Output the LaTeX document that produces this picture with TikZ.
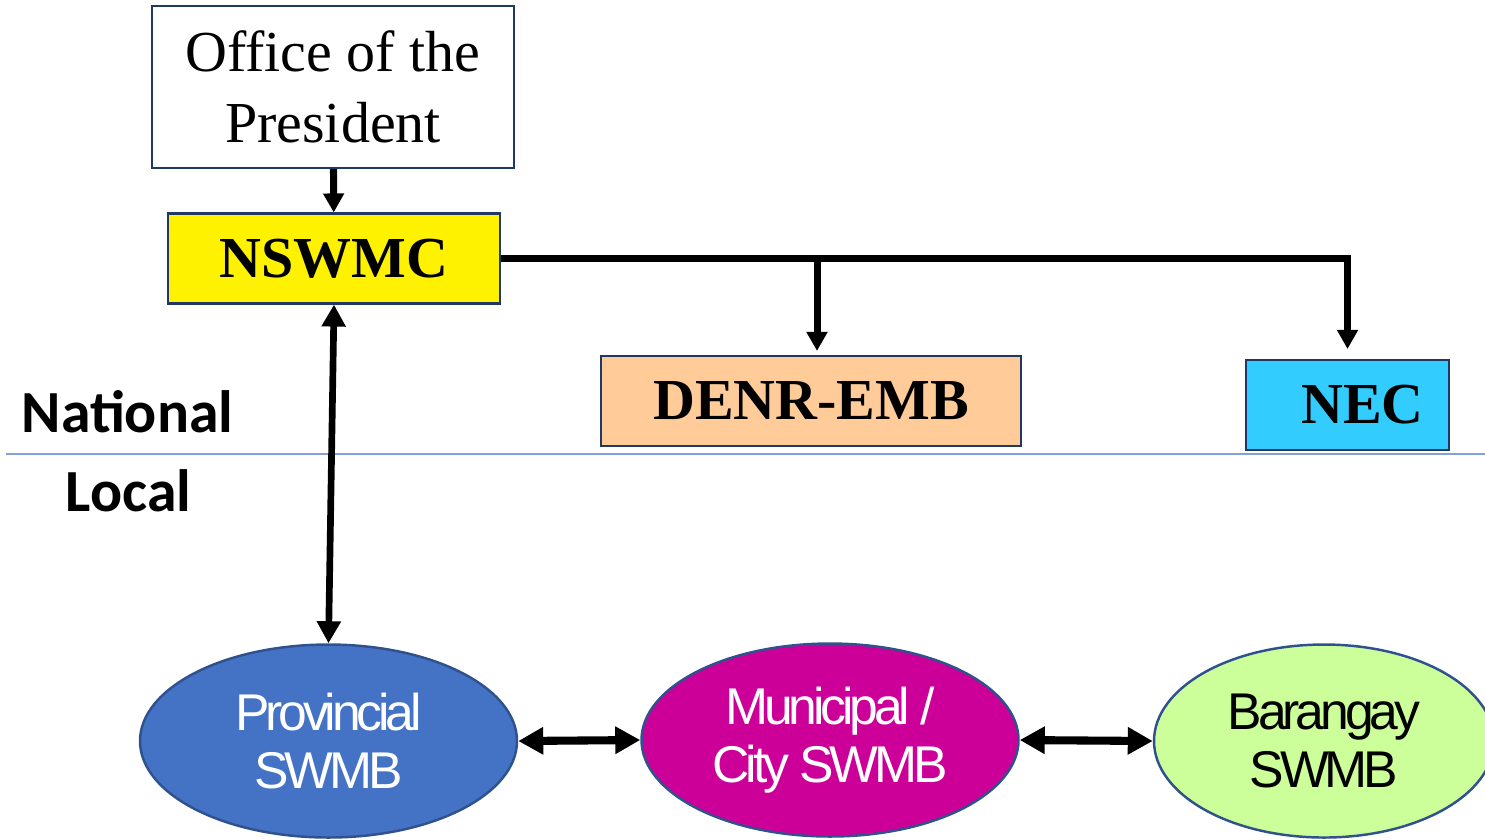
\documentclass[tikz,border=0pt]{standalone}
\usepackage{fontspec}
\setmainfont{Liberation Serif}
\newfontfamily\boardfont{Liberation Sans}[LetterSpace=-8]
\newfontfamily\levelfont{Carlito}
\usetikzlibrary{arrows.meta,positioning,shapes.geometric}
\definecolor{boxedge}{RGB}{32,56,100}
\definecolor{ovaledge}{RGB}{47,82,143}
\definecolor{denrfill}{RGB}{255,204,153}
\definecolor{necfill}{RGB}{51,204,255}
\definecolor{provfill}{RGB}{68,114,196}
\definecolor{munifill}{RGB}{204,0,153}
\definecolor{brgyfill}{RGB}{204,255,153}
\definecolor{divider}{RGB}{132,160,216}
\tikzset{
    org chart/.style  = {>={Triangle[length=1.9mm, width=2.0mm]}},
    link/.style       = {draw, line width=2pt},
    long link/.style  = {draw, line width=1.9pt,
                         {Triangle[length=2.2mm, width=2.3mm]}-{Triangle[length=2.2mm, width=2.3mm]}},
    wide link/.style  = {draw, line width=2.3pt,
                         {Triangle[length=2.5mm, width=2.6mm]}-{Triangle[length=2.5mm, width=2.6mm]}},
    office/.style     = {draw=boxedge, line width=0.6pt, align=center,
                         font=\fontsize{16.5}{20}\selectfont},
    unit/.style       = {office, font=\fontsize{16.5}{20}\selectfont\bfseries,
                         minimum height=0.9cm},
    board/.style      = {ellipse, draw=ovaledge, line width=0.7pt, align=center,
                         minimum width=3.77cm, minimum height=1.93cm, inner sep=0pt,
                         font=\boardfont\fontsize{14.7}{16.4}\selectfont},
    level/.style      = {font=\levelfont\bfseries\fontsize{17}{20}\selectfont}
}

\begin{document}
\begin{tikzpicture}[org chart]
\useasboundingbox (0,0) rectangle (14.85,-8.39);

% ================= National offices =================
\node[office, minimum width=3.62cm, minimum height=1.62cm] (president) at (3.33,-0.87) {Office of the\\President};
\node[unit, fill=yellow, minimum width=3.32cm] (nswmc) at (3.34,-2.585) {NSWMC};
\node[unit, fill=denrfill, minimum width=4.20cm] (denr) at (8.11,-4.01) {DENR-EMB};
\node[unit, fill=necfill, minimum width=2.03cm] (nec) at (13.475,-4.05) {\hspace*{3mm}NEC};

% ================= Level divider =================
\coordinate (split west) at (0.06,-4.54);
\coordinate (split east) at (14.85,-4.54);
\draw[divider, line width=0.6pt] (split west) -- (split east);
\node[level] (national) at (1.275,-4.12) {National};
\node[level] (local) at (1.285,-4.91) {Local};

% ================= Local boards =================
\node[board, fill=provfill, text=white] (prov) at (3.285,-7.41) {Provincial\\SWMB};
\node[board, fill=munifill, text=white] (muni) at (8.30,-7.40) {Municipal /\\City SWMB};
\node[board, fill=brgyfill, minimum width=3.40cm] (brgy) at (13.24,-7.41) {Barangay\\SWMB};

% ================= Links =================
\coordinate (denr drop) at ([xshift=0.6mm]denr.north);
\draw[->, link] (president) -- (nswmc);
\draw[->, link, shorten >=1mm] (nswmc.east) -| (nec.north);
\draw[->, link, shorten >=0.4mm] (nswmc.east -| denr drop) -- (denr drop);
\draw[long link] (nswmc.south) -- (prov.north);
\draw[wide link] (prov.east) -- (muni.west);
\draw[wide link] (muni.east) -- (brgy.west);

\end{tikzpicture}
\end{document}
